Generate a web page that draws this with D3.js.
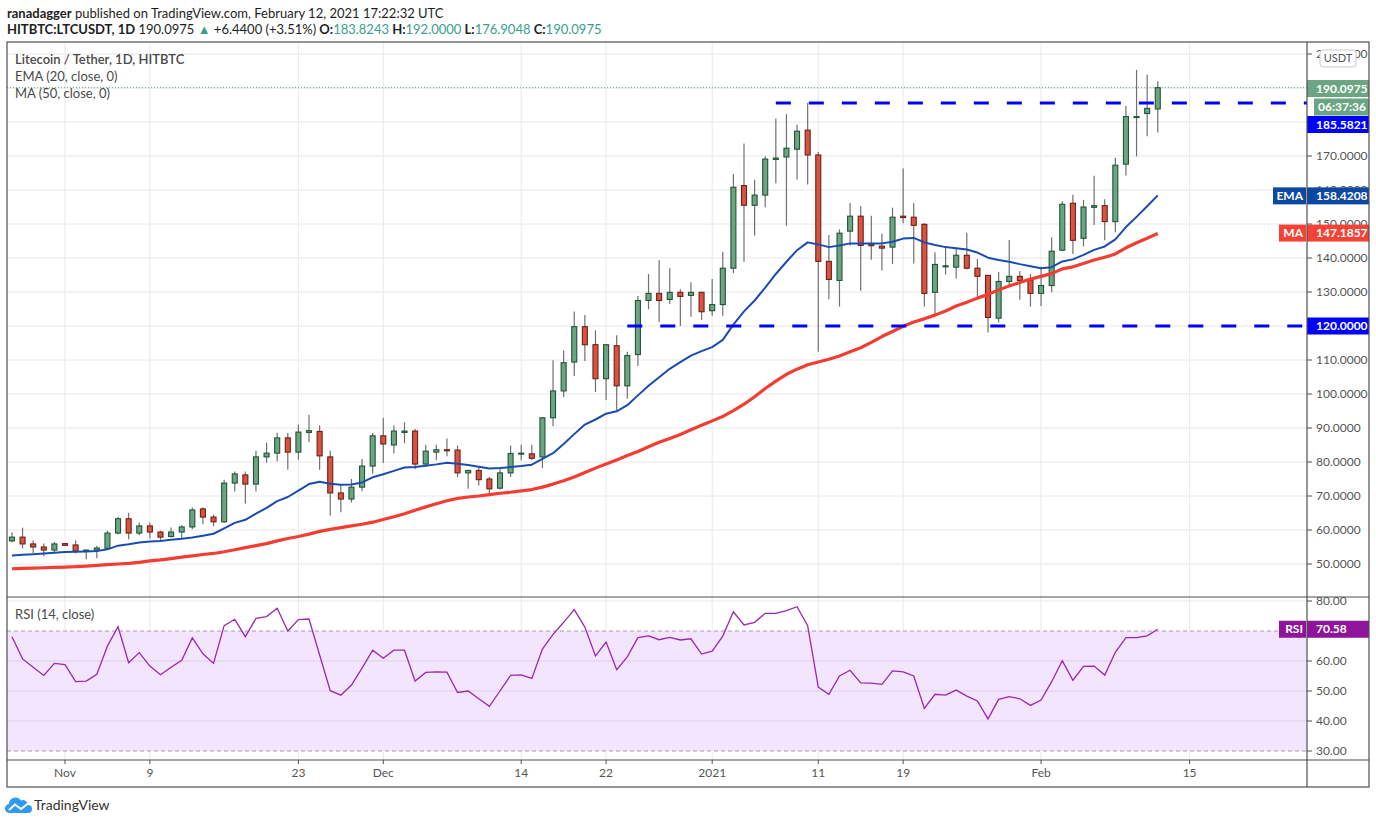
<!DOCTYPE html>
<meta charset="utf-8">
<script src="https://d3js.org/d3.v7.min.js"></script>
<style>
  body { margin: 0; background: #fff; }
  text { font-family: Lato, "Open Sans", sans-serif; }
</style>
<div id="chart"></div>
<script>
// LTC/USDT daily candles, HitBTC, Oct 27 2020 -> Feb 12 2021 (one value per day)
const firstDay = new Date(Date.UTC(2020, 9, 27));

const opens = [56.8, 57.9, 55.9, 55.0, 54.1, 56.0, 55.6, 53.7, 54.1, 54.6,
  59.1, 63.3, 59.1, 61.2, 59.4, 58.1, 59.4, 60.9, 66.2, 63.8,
  62.4, 73.8, 76.2, 73.5, 81.5, 82.6, 87.1, 82.9, 88.7, 89.0,
  81.5, 70.9, 69.1, 72.6, 78.8, 87.7, 85.0, 88.7, 89.1, 79.4,
  82.9, 83.6, 83.5, 76.8, 77.5, 75.0, 72.3, 76.8, 82.4, 82.4,
  81.5, 93.0, 100.9, 109.4, 119.8, 114.5, 104.5, 114.2, 102.4, 111.6,
  127.5, 129.6, 127.8, 129.9, 129.0, 129.9, 124.5, 126.3, 137.0, 161.3,
  155.5, 158.5, 169.0, 169.7, 172.0, 177.6, 170.3, 139.0, 133.4, 147.9,
  152.3, 144.0, 143.5, 143.2, 152.3, 152.0, 149.9, 129.9, 137.5, 137.3,
  140.8, 137.0, 134.9, 122.3, 133.1, 134.6, 133.4, 129.6, 131.9, 142.3,
  156.1, 145.8, 154.9, 155.4, 150.7, 167.6, 181.4, 182.5, 183.8243];
const highs = [59.3, 60.7, 56.9, 56.0, 56.5, 56.1, 56.9, 54.3, 55.4, 59.8,
  63.9, 65.1, 62.2, 62.2, 59.8, 60.7, 61.4, 66.6, 66.7, 64.5,
  74.8, 77.2, 77.2, 83.3, 85.7, 88.6, 88.5, 91.0, 93.9, 90.7,
  83.3, 73.3, 75.0, 80.9, 88.5, 93.0, 90.7, 91.7, 89.7, 85.1,
  85.1, 86.9, 84.8, 77.7, 78.7, 75.6, 78.2, 84.8, 85.1, 85.1,
  93.2, 109.9, 112.8, 124.3, 123.2, 118.7, 114.6, 117.3, 112.4, 128.8,
  135.3, 139.4, 137.0, 130.8, 132.9, 130.1, 133.8, 141.8, 164.7, 173.7,
  163.0, 169.9, 181.0, 182.3, 179.2, 185.6, 171.2, 146.8, 148.4, 156.2,
  155.3, 152.4, 147.1, 154.8, 166.3, 156.2, 150.3, 141.7, 143.5, 143.0,
  147.4, 139.7, 134.9, 135.9, 145.3, 136.2, 135.3, 137.4, 146.0, 156.7,
  158.6, 157.1, 164.2, 157.3, 169.5, 184.7, 195.3, 193.9, 192.0];
const lows = [56.4, 54.6, 53.2, 52.3, 53.5, 55.4, 53.1, 51.4, 51.7, 54.4,
  58.7, 57.3, 58.5, 57.5, 56.9, 57.8, 57.4, 60.2, 61.7, 61.1,
  62.1, 71.3, 67.8, 71.3, 79.8, 80.2, 77.7, 80.7, 85.8, 77.7,
  64.3, 65.2, 68.1, 71.4, 76.6, 79.7, 82.5, 85.5, 77.9, 78.7,
  80.5, 81.7, 75.5, 72.1, 73.1, 69.9, 71.9, 75.6, 80.5, 80.5,
  78.2, 90.5, 99.1, 105.3, 109.7, 100.6, 98.2, 95.2, 98.6, 108.2,
  124.9, 121.2, 126.5, 120.0, 122.7, 121.8, 123.0, 123.0, 135.5, 138.9,
  146.6, 154.9, 162.0, 149.5, 163.1, 161.6, 112.4, 127.9, 125.7, 143.6,
  130.4, 139.5, 136.3, 138.2, 150.2, 138.4, 125.7, 123.0, 135.1, 134.0,
  136.6, 128.3, 118.1, 121.0, 131.6, 127.7, 125.7, 125.9, 129.9, 142.0,
  141.2, 143.4, 149.7, 145.2, 147.6, 164.3, 169.9, 175.8, 176.9048];
const closes = [57.9, 55.9, 55.0, 54.1, 55.9, 55.5, 53.8, 54.1, 54.7, 59.1,
  63.3, 59.1, 61.2, 59.4, 57.9, 59.4, 60.9, 65.9, 63.8, 62.4,
  73.8, 76.5, 73.5, 81.5, 82.6, 87.1, 82.9, 88.8, 89.2, 81.8,
  70.9, 69.1, 72.6, 78.8, 87.7, 85.3, 89.1, 89.1, 79.4, 83.2,
  83.6, 83.4, 76.8, 77.5, 74.8, 72.1, 76.8, 82.5, 82.6, 81.1,
  93.0, 100.9, 109.2, 119.8, 114.5, 104.5, 114.5, 102.4, 111.3, 127.5,
  129.6, 127.5, 129.9, 128.7, 129.9, 124.2, 126.3, 137.0, 160.8, 155.5,
  158.5, 169.1, 169.4, 172.3, 177.3, 170.3, 139.0, 133.7, 147.3, 152.3,
  143.7, 143.6, 142.9, 152.0, 151.9, 149.6, 129.6, 138.1, 137.7, 140.8,
  137.0, 134.6, 122.5, 133.1, 134.6, 133.4, 129.6, 131.9, 142.0, 155.8,
  145.2, 155.0, 155.4, 150.7, 167.3, 181.6, 181.6, 184.0, 190.0975];

// indicator values as drawn on the chart
const ema20 = [52.5, 52.7, 52.9, 53.1, 53.3, 53.5, 53.6, 53.7, 53.8, 54.3,
  55.4, 55.8, 56.3, 56.6, 56.8, 57.1, 57.4, 57.8, 58.3, 58.9,
  60.5, 62.1, 63.0, 64.8, 66.5, 68.5, 69.7, 71.6, 73.5, 74.2,
  73.6, 73.3, 73.4, 74.0, 75.5, 76.4, 77.4, 78.4, 78.5, 78.9,
  79.3, 79.8, 79.5, 79.1, 78.6, 78.1, 78.2, 78.5, 78.8, 79.2,
  80.9, 82.6, 85.3, 88.2, 91.0, 92.5, 94.2, 94.9, 96.7, 99.6,
  102.4, 104.9, 107.4, 109.4, 111.3, 112.6, 113.8, 115.9, 120.4, 124.3,
  127.5, 131.3, 135.3, 138.9, 142.3, 144.6, 144.0, 143.2, 143.7, 144.3,
  144.3, 144.3, 144.3, 144.8, 145.7, 145.9, 144.6, 143.8, 143.2, 142.9,
  142.5, 141.6, 140.1, 139.4, 138.9, 138.2, 137.6, 137.0, 137.3, 139.0,
  139.6, 140.9, 142.4, 143.4, 145.5, 149.1, 152.1, 155.2, 158.4208];
const ma50 = [48.6, 48.7, 48.8, 48.9, 49.0, 49.1, 49.2, 49.4, 49.6, 49.8,
  50.0, 50.2, 50.5, 50.9, 51.2, 51.6, 52.0, 52.4, 52.8, 53.1,
  53.6, 54.2, 54.8, 55.4, 56.0, 56.8, 57.5, 58.1, 58.8, 59.6,
  60.2, 60.7, 61.2, 61.7, 62.3, 63.1, 63.9, 64.8, 65.8, 66.8,
  67.7, 68.6, 69.3, 69.7, 70.0, 70.4, 70.8, 71.1, 71.5, 71.9,
  72.6, 73.5, 74.5, 75.6, 76.9, 78.2, 79.4, 80.6, 81.9, 83.1,
  84.5, 85.8, 86.9, 88.1, 89.5, 90.8, 92.1, 93.4, 95.1, 97.0,
  99.2, 101.6, 103.8, 105.8, 107.3, 108.6, 109.4, 110.2, 111.2, 112.4,
  113.6, 115.2, 116.9, 118.4, 119.9, 121.2, 122.1, 123.2, 124.4, 125.9,
  127.0, 128.2, 129.3, 130.6, 131.8, 132.8, 133.8, 134.6, 135.4, 136.8,
  137.4, 138.4, 139.4, 140.2, 141.2, 143.0, 144.5, 145.8, 147.1857];
const rsi14 = [68.1, 60.7, 57.9, 55.2, 59.2, 58.8, 53.1, 53.3, 55.6, 65.0,
  71.4, 59.4, 62.8, 58.3, 55.4, 57.9, 60.2, 67.7, 62.4, 59.2,
  71.8, 73.9, 68.1, 74.2, 74.8, 77.6, 70.0, 73.8, 74.0, 62.0,
  50.1, 48.6, 52.0, 57.6, 63.6, 60.9, 63.6, 63.6, 53.3, 56.2,
  56.4, 56.3, 49.5, 50.0, 47.4, 44.9, 50.0, 55.2, 55.4, 54.2,
  64.0, 68.9, 72.9, 77.1, 71.3, 61.7, 66.3, 57.1, 61.4, 67.8,
  68.4, 67.1, 67.9, 67.0, 67.4, 62.3, 63.3, 68.3, 76.4, 72.0,
  72.9, 75.9, 75.9, 76.8, 78.1, 71.8, 51.3, 48.9, 55.0, 56.9,
  52.7, 52.6, 52.2, 56.7, 56.4, 55.0, 44.2, 48.9, 48.6, 50.3,
  48.3, 46.7, 40.7, 47.2, 48.1, 47.4, 45.2, 47.0, 53.1, 60.1,
  53.6, 58.2, 58.3, 55.3, 62.9, 67.8, 67.8, 68.4, 70.58];

// axis ticks
const priceTicks = [50, 60, 70, 80, 90, 100, 110, 120, 130, 140, 150, 160, 170, 180, 190, 200];
const rsiTicks = [30, 40, 50, 60, 80];
const dateTicks = [
  {d: "2020-11-01", t: "Nov"}, {d: "2020-11-09", t: "9"}, {d: "2020-11-23", t: "23"},
  {d: "2020-12-01", t: "Dec"}, {d: "2020-12-14", t: "14"}, {d: "2020-12-22", t: "22"},
  {d: "2021-01-01", t: "2021"}, {d: "2021-01-11", t: "11"}, {d: "2021-01-19", t: "19"},
  {d: "2021-02-01", t: "Feb"}, {d: "2021-02-15", t: "15"}];

// horizontal levels drawn by the author
const levels = [{price: 185.5821, from: "2021-01-07"}, {price: 120, from: "2020-12-24"}];

const data = opens.map((o, i) => ({
  date: d3.utcDay.offset(firstDay, i),
  open: o, high: highs[i], low: lows[i], close: closes[i],
  ema: ema20[i], ma: ma50[i], rsi: rsi14[i]
}));
const last = data[data.length - 1];

// frame
const W = 1376, H = 824;
const left = 7, right = 1369, axisX = 1307;
const paneTop = 42, mainBottom = 597, rsiBottom = 760, bottom = 787;

const svg = d3.select("#chart").append("svg")
  .attr("width", W).attr("height", H)
  .style("display", "block");

const x = d3.scaleUtc()
  .domain([new Date("2020-11-01T00:00Z"), new Date("2021-02-15T00:00Z")])
  .range([65, 1189.6]);
const y = d3.scaleLinear().domain([120, 190]).range([326, 88]);
const yR = d3.scaleLinear().domain([30, 80]).range([751, 601]);
const tickX = d => x(new Date(d.d + "T00:00Z"));

const gridColor = "#e8e8ea", axisText = "#555", frameColor = "#4f4f4f";
const upFill = "#6ba583", upLine = "#225437", downFill = "#d75442", downLine = "#6f1f15";

svg.append("defs").append("clipPath").attr("id", "mainClip")
  .append("rect").attr("x", left).attr("y", paneTop)
  .attr("width", axisX - left).attr("height", mainBottom - paneTop);

// vertical grid
svg.append("g").selectAll("line").data(dateTicks).join("line")
  .attr("x1", tickX).attr("x2", tickX)
  .attr("y1", paneTop).attr("y2", rsiBottom)
  .attr("stroke", gridColor);

// horizontal price grid
const main = svg.append("g").attr("clip-path", "url(#mainClip)");
main.append("g").selectAll("line").data(priceTicks).join("line")
  .attr("x1", left).attr("x2", axisX)
  .attr("y1", d => y(d)).attr("y2", d => y(d))
  .attr("stroke", gridColor);

// last price dotted line
main.append("line")
  .attr("x1", left).attr("x2", axisX)
  .attr("y1", y(last.close)).attr("y2", y(last.close))
  .attr("stroke", upFill).attr("stroke-dasharray", "1,2");

// candles
const bodyW = 5;
const candles = main.append("g").selectAll("g").data(data).join("g");
candles.append("line")
  .attr("x1", d => x(d.date)).attr("x2", d => x(d.date))
  .attr("y1", d => y(d.high)).attr("y2", d => y(d.low))
  .attr("stroke", "#707073").attr("stroke-width", 1.2);
candles.append("rect")
  .attr("x", d => x(d.date) - bodyW / 2)
  .attr("y", d => y(Math.max(d.open, d.close)))
  .attr("width", bodyW)
  .attr("height", d => Math.max(1, Math.abs(y(d.open) - y(d.close))))
  .attr("fill", d => d.close >= d.open ? upFill : downFill)
  .attr("stroke", d => d.close >= d.open ? upLine : downLine)
  .attr("stroke-width", 1.1);

// moving averages
main.append("path").datum(data)
  .attr("fill", "none").attr("stroke", "#f23d33").attr("stroke-width", 3.2)
  .attr("stroke-linejoin", "round")
  .attr("d", d3.line().x(d => x(d.date)).y(d => y(d.ma)));
main.append("path").datum(data)
  .attr("fill", "none").attr("stroke", "#1a4cb0").attr("stroke-width", 2)
  .attr("stroke-linejoin", "round")
  .attr("d", d3.line().x(d => x(d.date)).y(d => y(d.ema)));

// horizontal levels
main.append("g").selectAll("line").data(levels).join("line")
  .attr("x1", d => x(new Date(d.from + "T00:00Z"))).attr("x2", axisX)
  .attr("y1", d => y(d.price)).attr("y2", d => y(d.price))
  .attr("stroke", "#0000ff").attr("stroke-width", 3)
  .attr("stroke-dasharray", "15,18");

// legend
const legend = svg.append("g").attr("fill", "#4a4a4a").attr("font-size", 13);
legend.append("text").attr("x", 15).attr("y", 64).attr("font-weight", 600)
  .text("Litecoin / Tether, 1D, HITBTC");
legend.append("text").attr("x", 15).attr("y", 81).text("EMA (20, close, 0)");
legend.append("text").attr("x", 15).attr("y", 98).text("MA (50, close, 0)");

// RSI pane
svg.append("rect")
  .attr("x", left).attr("width", axisX - left)
  .attr("y", yR(70)).attr("height", yR(30) - yR(70))
  .attr("fill", "#f3e5fd");
svg.append("g").selectAll("line").data([40, 50, 60, 80]).join("line")
  .attr("x1", left).attr("x2", axisX)
  .attr("y1", d => yR(d)).attr("y2", d => yR(d))
  .attr("stroke", d => d === 80 ? gridColor : "#dccfe6");
svg.append("g").selectAll("line").data([70, 30]).join("line")
  .attr("x1", left).attr("x2", axisX)
  .attr("y1", d => yR(d)).attr("y2", d => yR(d))
  .attr("stroke", "#a79aae").attr("stroke-dasharray", "4,3");
svg.append("path").datum(data)
  .attr("fill", "none").attr("stroke", "#9c27b0").attr("stroke-width", 1.3)
  .attr("d", d3.line().x(d => x(d.date)).y(d => yR(d.rsi)));
svg.append("text").attr("x", 15).attr("y", 619)
  .attr("font-size", 13).attr("fill", "#4a4a4a").text("RSI (14, close)");

// right price axis
const pAxis = svg.append("g");
pAxis.selectAll("line").data(priceTicks).join("line")
  .attr("x1", axisX).attr("x2", axisX + 5)
  .attr("y1", d => y(d)).attr("y2", d => y(d)).attr("stroke", frameColor);
pAxis.selectAll("text").data(priceTicks).join("text")
  .attr("x", 1316).attr("y", d => y(d)).attr("dy", "0.35em")
  .attr("font-size", 12).attr("fill", axisText)
  .text(d => d3.format(".4f")(d));

const rAxis = svg.append("g");
rAxis.selectAll("line").data(rsiTicks).join("line")
  .attr("x1", axisX).attr("x2", axisX + 5)
  .attr("y1", d => yR(d)).attr("y2", d => yR(d)).attr("stroke", frameColor);
rAxis.selectAll("text").data(rsiTicks).join("text")
  .attr("x", 1316).attr("y", d => yR(d)).attr("dy", "0.35em")
  .attr("font-size", 12).attr("fill", axisText)
  .text(d => d3.format(".2f")(d));

// time axis
const tAxis = svg.append("g");
tAxis.selectAll("line").data(dateTicks).join("line")
  .attr("x1", tickX).attr("x2", tickX)
  .attr("y1", rsiBottom).attr("y2", rsiBottom + 4).attr("stroke", frameColor);
tAxis.selectAll("text").data(dateTicks).join("text")
  .attr("x", tickX).attr("y", 777)
  .attr("text-anchor", "middle").attr("font-size", 12).attr("fill", axisText)
  .text(d => d.t);

// axis value labels (boxes)
function tag(cy, text, fill, x0, tx) {
  svg.append("rect").attr("x", x0).attr("y", cy - 8.5)
    .attr("width", right - x0).attr("height", 17).attr("fill", fill);
  svg.append("text").attr("x", tx || 1316).attr("y", cy).attr("dy", "0.35em")
    .attr("font-size", 12).attr("font-weight", 700).attr("fill", "#fff").text(text);
}
function nameTag(cy, text, fill, x0) {
  svg.append("rect").attr("x", x0).attr("y", cy - 8.5)
    .attr("width", axisX - 1 - x0).attr("height", 17).attr("fill", fill);
  svg.append("text").attr("x", axisX - 4).attr("y", cy).attr("dy", "0.35em")
    .attr("text-anchor", "end").attr("font-size", 12).attr("font-weight", 700)
    .attr("fill", "#fff").text(text);
}
tag(88.5, d3.format(".4f")(last.close), upFill, axisX);
tag(107, "06:37:36", upFill, 1314, 1318);
tag(124.5, d3.format(".4f")(levels[0].price), "#0000ff", axisX);
nameTag(y(last.ema) + 0.5, "EMA", "#0d47a1", 1273);
tag(y(last.ema) + 0.5, d3.format(".4f")(last.ema), "#0d47a1", axisX);
nameTag(y(last.ma) - 0.5, "MA", "#f44336", 1279);
tag(y(last.ma) - 0.5, d3.format(".4f")(last.ma), "#f44336", axisX);
tag(y(levels[1].price), d3.format(".4f")(levels[1].price), "#0000ff", axisX);
nameTag(yR(last.rsi), "RSI", "#8e1599", 1279);
tag(yR(last.rsi), d3.format(".2f")(last.rsi), "#8e1599", axisX);

// USDT badge
svg.append("rect").attr("x", 1320).attr("y", 50).attr("width", 36).attr("height", 17)
  .attr("rx", 3).attr("fill", "#fff").attr("stroke", "#c9c9d0");
svg.append("text").attr("x", 1338).attr("y", 58.5).attr("dy", "0.35em")
  .attr("text-anchor", "middle").attr("font-size", 11).attr("fill", "#555").text("USDT");

// frame lines
const frame = svg.append("g").attr("stroke", frameColor).attr("stroke-width", 1.2);
frame.append("rect").attr("x", left).attr("y", paneTop)
  .attr("width", right - left).attr("height", bottom - paneTop).attr("fill", "none");
frame.append("line").attr("x1", left).attr("x2", right).attr("y1", mainBottom).attr("y2", mainBottom);
frame.append("line").attr("x1", left).attr("x2", right).attr("y1", rsiBottom).attr("y2", rsiBottom);
frame.append("line").attr("x1", axisX).attr("x2", axisX).attr("y1", paneTop).attr("y2", bottom);

// header
const h1 = svg.append("text").attr("x", 7).attr("y", 18).attr("font-size", 13).attr("fill", "#1e1e1e");
h1.append("tspan").attr("font-weight", 700).text("ranadagger");
h1.append("tspan").text(" published on TradingView.com, February 12, 2021 17:22:32 UTC");

const teal = "#3a9e8c";
const h2 = svg.append("text").attr("x", 7).attr("y", 34).attr("font-size", 13).attr("fill", "#1e1e1e");
h2.append("tspan").attr("font-weight", 700).text("HITBTC:LTCUSDT, 1D");
h2.append("tspan").text(" " + d3.format(".4f")(last.close) + " ");
h2.append("tspan").attr("fill", teal).text("▲");
h2.append("tspan").text(" +6.4400 (+3.51%)");
[["O:", last.open], ["H:", last.high], ["L:", last.low], ["C:", last.close]].forEach(([k, v]) => {
  h2.append("tspan").attr("font-weight", 700).text(" " + k);
  h2.append("tspan").attr("fill", teal).text(d3.format(".4f")(v));
});

// TradingView logo
const logo = svg.append("g");
logo.append("path")
  .attr("d", "M10,813 A4.5,4.5 0 0 1 9,804 A6.5,6.5 0 0 1 21,800.5 A5,5 0 0 1 28,805 A4,4 0 0 1 28,813 Z")
  .attr("fill", "#2e9bf0");
logo.append("polyline").attr("points", "9,810 15,804.5 21,809 28,803.5")
  .attr("fill", "none").attr("stroke", "#fff").attr("stroke-width", 2);
svg.append("text").attr("x", 34).attr("y", 810).attr("font-size", 14).attr("fill", "#333")
  .text("TradingView");
</script>
